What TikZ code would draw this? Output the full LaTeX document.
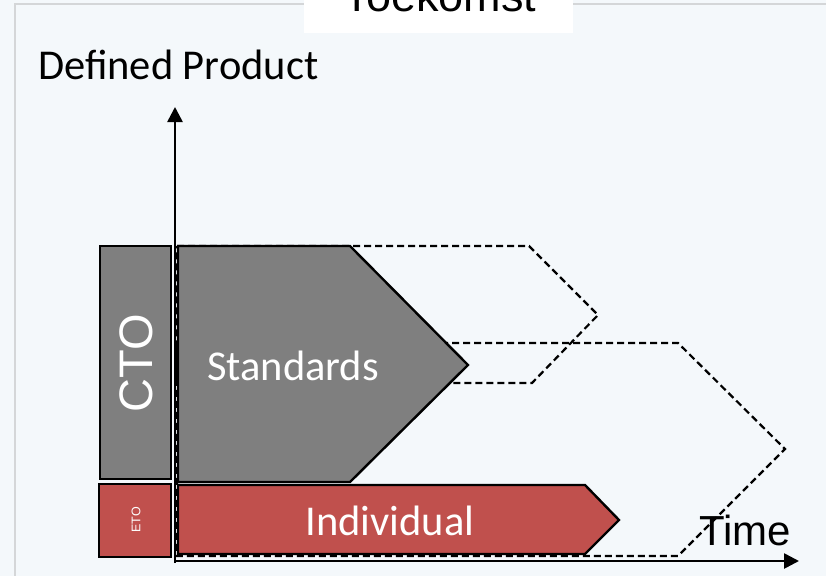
\documentclass[tikz,border=0pt]{standalone}
\usepackage{fontspec}
\setmainfont{Carlito}
\newfontfamily\arialf{Liberation Sans}
\usetikzlibrary{arrows.meta}
\definecolor{bgc}{HTML}{F4F8FB}
\definecolor{framec}{HTML}{D4D6D8}
\definecolor{grayfill}{HTML}{7F7F7F}
\definecolor{redfill}{HTML}{C0504D}
\tikzset{
  shapeA/.style={draw=black, line width=2.4pt, line join=miter},
  dashshape/.style={draw=black, line width=2.2pt, dash pattern=on 7pt off 4pt},
  axis/.style={draw=black, line width=2.6pt, -{Triangle[length=15pt,width=15pt]}},
  lbl/.style={inner sep=0pt, font=\fontsize{42.5}{48}\selectfont},
}
\begin{document}
\begin{tikzpicture}[x=1pt,y=-1pt]
\useasboundingbox (0,0) rectangle (826,575);
\begin{scope}
\clip (0,0) rectangle (826,575);
\fill[bgc] (-5,-5) rectangle (831,580);
\draw[framec, line width=1.5pt] (15,590) -- (15,4) -- (840,4);
\fill[white] (304,-5) rectangle (573,33);
\node[inner sep=0pt, anchor=base, font=\arialf\fontsize{45}{50}\selectfont] (title) at (440,12) {Toekomst};
% dashed outlines
\draw[dashshape] (177,246) -- (529,246) -- (598,315) -- (532,383) -- (177,383) -- cycle;
\draw[dashshape] (177,343) -- (678,343) -- (785,449) -- (678,556) -- (177,556) -- cycle;
% filled shapes
\filldraw[shapeA, fill=grayfill] (100,246) rectangle (171,479);
\filldraw[shapeA, fill=redfill] (99,484) rectangle (171,557);
\filldraw[shapeA, fill=grayfill] (178,246) -- (350,246) -- (468,365) -- (350,482) -- (178,482) -- cycle;
\filldraw[shapeA, fill=redfill] (178,485) -- (585,485) -- (619,520) -- (585,554) -- (178,554) -- cycle;
% axes
\coordinate (origin) at (175,561);
\coordinate (ytop) at (175,107);
\coordinate (xend) at (799,561);
\draw[axis] (175,563) -- (ytop);
\draw[axis] (174,561) -- (xend);
\end{scope}
% labels
\node[lbl, anchor=base west] (yl) at (38,80) {Defined Product};
\node[lbl, text=white] (std) at (293,366) {Standards};
\node[lbl, text=white] (ind) at (390,521) {Individual};
\node[inner sep=0pt, text=white, rotate=90, font=\arialf\fontsize{47}{50}\selectfont] (cto) at (136,363) {CTO};
\node[inner sep=0pt, text=white, rotate=90, font=\arialf\fontsize{12.5}{14}\selectfont] (eto) at (136,520) {ETO};
\node[inner sep=0pt, anchor=base west, font=\arialf\fontsize{42}{46}\selectfont] (time) at (699,545) {Time};
\end{tikzpicture}
\end{document}
